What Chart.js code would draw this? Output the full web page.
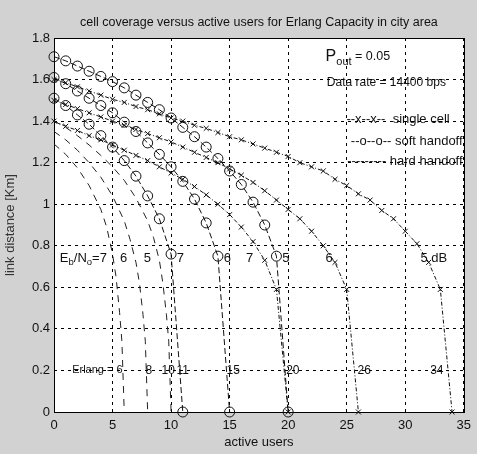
<!DOCTYPE html>
<html><head><meta charset="utf-8">
<script src="https://cdn.jsdelivr.net/npm/chart.js@4.4.1/dist/chart.umd.min.js"></script>
<style>html,body{margin:0;padding:0;background:#d2d2d2;}canvas{display:block;}</style>
</head><body>
<canvas id="c" width="477" height="454"></canvas>
<script>
// ---- tick labels ----
const xTickLabels = ['0','5','10','15','20','25','30','35'];
const yTickLabels = ['0','0.2','0.4','0.6','0.8','1','1.2','1.4','1.6','1.8'];

// ---- soft handoff (value at users = 0,1,2,...) ----
const soft5dB = [1.71,1.69,1.665,1.64,1.615,1.59,1.56,1.525,1.49,1.455,1.415,1.37,1.325,1.275,1.22,1.16,1.095,1.01,0.90,0.75,0];
const soft6dB = [1.61,1.58,1.545,1.51,1.475,1.44,1.395,1.35,1.295,1.24,1.18,1.11,1.025,0.91,0.75,0];
const soft7dB = [1.51,1.475,1.43,1.385,1.33,1.275,1.21,1.135,1.04,0.93,0.76,0];

// ---- single cell (value at users = 0,1,2,...) ----
const single5dB = [1.60,1.585,1.565,1.545,1.525,1.505,1.49,1.47,1.455,1.435,1.415,1.40,1.38,1.365,1.345,1.325,1.31,1.29,1.27,1.25,1.23,1.20,1.18,1.16,1.12,1.09,1.05,1.02,0.97,0.93,0.87,0.81,0.72,0.59,0];
const single6dB = [1.50,1.48,1.46,1.44,1.42,1.40,1.38,1.36,1.34,1.32,1.30,1.275,1.25,1.225,1.20,1.17,1.14,1.105,1.065,1.02,0.975,0.93,0.87,0.80,0.72,0.59,0];
const single7dB = [1.40,1.375,1.355,1.33,1.31,1.285,1.26,1.235,1.21,1.18,1.15,1.12,1.085,1.045,1.00,0.95,0.89,0.82,0.73,0.59,0];

// ---- hard handoff ----
const hard5dBUsers = [0,1,2,3,4,5,6,7,8,8.5,9,9.3,9.6,9.8,10];
const hard5dB      = [1.40,1.37,1.33,1.285,1.235,1.18,1.115,1.03,0.92,0.84,0.73,0.62,0.47,0.34,0];
const hard6dBUsers = [0,1,2,3,4,5,6,6.5,7,7.3,7.6,7.8,8];
const hard6dB      = [1.35,1.31,1.26,1.20,1.13,1.04,0.92,0.83,0.72,0.62,0.47,0.34,0];
const hard7dBUsers = [0,1,2,3,4,4.5,5,5.3,5.6,5.8,6];
const hard7dB      = [1.29,1.24,1.175,1.09,0.975,0.89,0.76,0.65,0.48,0.34,0];

const FONT = "'Liberation Sans', Arial, Helvetica, sans-serif";
const INK = '#111';

const byIndex = arr => arr.map((y, i) => ({x: i, y}));
const byPairs = (xs, ys) => xs.map((x, i) => ({x, y: ys[i]}));

function singleDs(arr){ return {data: byIndex(arr), borderColor: INK, borderWidth: 1, borderDash: [4,2,1,2],
  pointStyle: 'crossRot', pointRadius: 3.5, pointBorderColor: INK, pointBorderWidth: 1, pointBackgroundColor: 'rgba(0,0,0,0)', tension: 0, clip: false}; }
function softDs(arr){ return {data: byIndex(arr), borderColor: INK, borderWidth: 1, borderDash: [6,3],
  pointStyle: 'circle', pointRadius: 5, pointBorderColor: INK, pointBorderWidth: 1, pointBackgroundColor: 'rgba(0,0,0,0)', tension: 0, clip: false}; }
function hardDs(xs, ys){ return {data: byPairs(xs, ys), borderColor: '#222', borderWidth: 1, borderDash: [7,6],
  pointRadius: 0, tension: 0, clip: false}; }

function tickLabel(list, v){ for (const s of list) if (Math.abs(parseFloat(s) - v) < 1e-6) return s; return ''; }

function drawRich(ctx, x, y, parts){
  let cx = x;
  for (const [t, size, dy] of parts){
    ctx.font = size + 'px ' + FONT;
    ctx.fillText(t, cx, y + dy);
    cx += ctx.measureText(t).width;
  }
}

const annotations = {
  id: 'annotations',
  beforeDraw(chart){
    const {ctx, chartArea: a, scales} = chart;
    const X = v => scales.x.getPixelForValue(v), Y = v => scales.y.getPixelForValue(v);
    ctx.save();
    ctx.fillStyle = '#fff';
    ctx.fillRect(a.left, a.top, a.right - a.left, a.bottom - a.top);
    ctx.fillStyle = INK;
    ctx.textBaseline = 'middle';
    ctx.textAlign = 'left';
    drawRich(ctx, X(23.2), Y(1.71), [['P',16,0],['out',11,5],[' = 0.05',12.5,0]]);
    ctx.font = '12px ' + FONT;
    ctx.fillText('Data rate = 14400 bps', X(23.3), Y(1.583));
    ctx.textAlign = 'right';
    ctx.font = '13px ' + FONT;
    ctx.fillText('--x--x--  single cell', X(33.8), Y(1.41));
    ctx.fillText('--o--o-- soft handoff', X(34.9), Y(1.30));
    ctx.fillText('--------- hard handoff', X(34.9), Y(1.205));
    ctx.textAlign = 'left';
    drawRich(ctx, X(0.5), Y(0.741), [['E',13,0],['b',9.5,4],['/N',13,0],['o',9.5,4],['=7',13,0]]);
    ctx.font = '13px ' + FONT;
    ctx.textAlign = 'center';
    const ebLabels = [['6',5.95],['5',7.97],['7',10.8],['6',14.8],['7',16.7],['5',19.8],['6',23.5]];
    for (const [t, xv] of ebLabels) ctx.fillText(t, X(xv), Y(0.741));
    ctx.textAlign = 'left';
    ctx.fillText('5 dB', X(31.3), Y(0.741));
    ctx.font = '11px ' + FONT;
    ctx.textAlign = 'left';
    ctx.fillText('Erlang = 6', X(1.55), Y(0.2));
    ctx.font = '12px ' + FONT;
    ctx.textAlign = 'center';
    const erl = [['8',8.1],['10',9.75],['11',11.0],['15',15.3],['20',20.4],['26',26.5],['34',32.7]];
    for (const [t, xv] of erl) ctx.fillText(t, X(xv), Y(0.2));
    ctx.restore();
  },
  beforeDatasetsDraw(chart){
    const {ctx, chartArea: a} = chart;
    ctx.save();
    ctx.strokeStyle = '#000';
    ctx.lineWidth = 1;
    ctx.strokeRect(Math.round(a.left) + 0.5, Math.round(a.top) + 0.5, Math.round(a.right - a.left), Math.round(a.bottom - a.top));
    ctx.restore();
  }
};

new Chart(document.getElementById('c').getContext('2d'), {
  type: 'line',
  data: { datasets: [
    hardDs(hard7dBUsers, hard7dB), hardDs(hard6dBUsers, hard6dB), hardDs(hard5dBUsers, hard5dB),
    singleDs(single7dB), singleDs(single6dB), singleDs(single5dB),
    softDs(soft7dB), softDs(soft6dB), softDs(soft5dB)
  ]},
  options: {
    responsive: false, animation: false, devicePixelRatio: 1,
    layout: { padding: {left: 0, right: 10, top: 0, bottom: 0} },
    plugins: {
      legend: {display: false}, tooltip: {enabled: false},
      title: { display: true, fullSize: false, text: 'cell coverage versus active users for Erlang Capacity in city area',
        color: INK, font: {family: FONT, size: 12.5, weight: 'normal'}, padding: {top: 15, bottom: 8} }
    },
    scales: {
      x: { type: 'linear', min: 0, max: 35,
        ticks: { stepSize: 5, padding: 6, color: INK, font: {family: FONT, size: 13}, maxRotation: 0,
          callback: v => tickLabel(xTickLabels, v) },
        grid: { color: '#000', lineWidth: 1, drawTicks: false },
        border: { display: false, dash: [3,4] },
        title: { display: true, text: 'active users', color: INK, font: {family: FONT, size: 13}, padding: {top: 0, bottom: 4} },
        afterFit: s => { s.height = 42; } },
      y: { type: 'linear', min: 0, max: 1.8,
        ticks: { stepSize: 0.2, padding: 4, color: INK, font: {family: FONT, size: 13},
          callback: v => tickLabel(yTickLabels, v) },
        grid: { color: '#000', lineWidth: 1, drawTicks: false },
        border: { display: false, dash: [3,4] },
        title: { display: true, text: 'link distance [Km]', color: '#333', font: {family: FONT, size: 13}, padding: {top: 3, bottom: 0} },
        afterFit: s => { s.width = 54; } }
    }
  },
  plugins: [annotations]
});
</script>
</body></html>
